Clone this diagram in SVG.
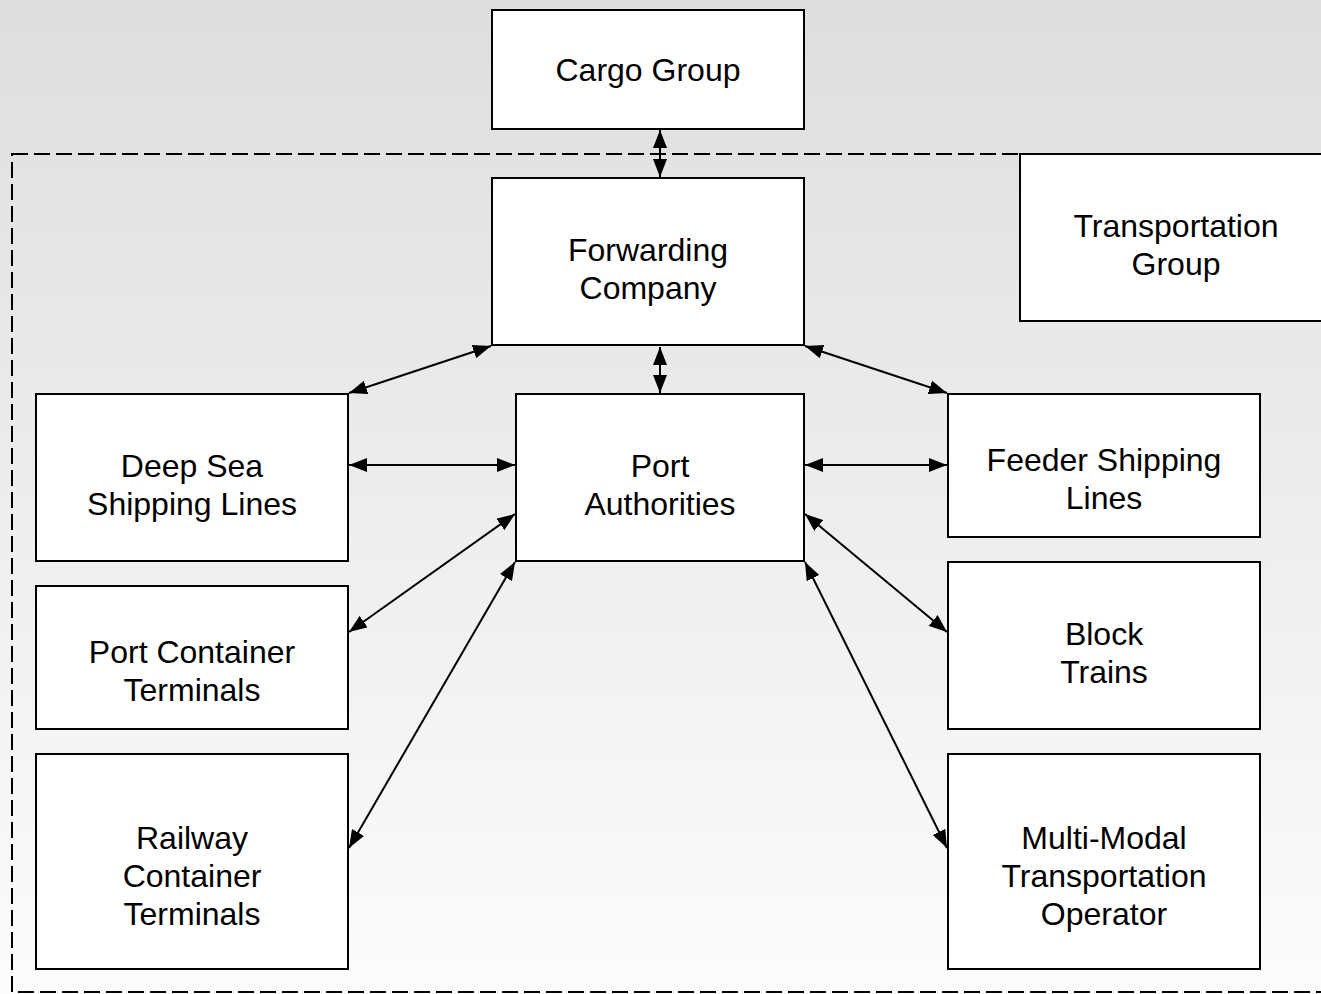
<svg xmlns="http://www.w3.org/2000/svg" width="1321" height="994" viewBox="0 0 1321 994">
<defs>
<linearGradient id="bg" x1="0" y1="0" x2="0" y2="1">
<stop offset="0" stop-color="#dedede"/>
<stop offset="1" stop-color="#fcfcfc"/>
</linearGradient>
<marker id="ah" viewBox="0 0 18 14" refX="18" refY="7" markerWidth="18" markerHeight="14" markerUnits="userSpaceOnUse" orient="auto-start-reverse">
<path d="M0,0 L18,7 L0,14 Z" fill="#000"/>
</marker>
</defs>
<style>
.box{fill:#fff;stroke:#000;stroke-width:2}
.t{font-family:"Liberation Sans",Arial,sans-serif;font-size:32px;fill:#000;text-anchor:middle}
.c{stroke:#000;stroke-width:2;fill:none;marker-start:url(#ah);marker-end:url(#ah)}
</style>
<rect x="0" y="0" width="1321" height="994" fill="url(#bg)"/>
<rect id="transportation-boundary" x="12" y="154" width="1330" height="838" fill="none" stroke="#000" stroke-width="2" stroke-dasharray="16 6"/>
<g id="connectors">
<line class="c" x1="660" y1="130" x2="660" y2="177"/>
<line class="c" x1="660" y1="347" x2="660" y2="393"/>
<line class="c" x1="491" y1="346" x2="349" y2="393"/>
<line class="c" x1="805" y1="346" x2="947" y2="393"/>
<line class="c" x1="349" y1="465" x2="515" y2="465"/>
<line class="c" x1="805" y1="465" x2="947" y2="465"/>
<line class="c" x1="515" y1="514" x2="349" y2="632"/>
<line class="c" x1="515" y1="562" x2="349" y2="848"/>
<line class="c" x1="805" y1="514" x2="947" y2="632"/>
<line class="c" x1="805" y1="562" x2="947" y2="848"/>
</g>
<g id="cargo-group"><rect class="box" x="492" y="10" width="312" height="119"/><text class="t" x="648" y="81">Cargo Group</text></g>
<g id="transportation-group"><rect class="box" x="1020" y="154" width="320" height="167"/><text class="t" x="1176" y="237">Transportation</text><text class="t" x="1176" y="275">Group</text></g>
<g id="forwarding-company"><rect class="box" x="492" y="178" width="312" height="167"/><text class="t" x="648" y="261">Forwarding</text><text class="t" x="648" y="299">Company</text></g>
<g id="port-authorities"><rect class="box" x="516" y="394" width="288" height="167"/><text class="t" x="660" y="477">Port</text><text class="t" x="660" y="515">Authorities</text></g>
<g id="deep-sea"><rect class="box" x="36" y="394" width="312" height="167"/><text class="t" x="192" y="477">Deep Sea</text><text class="t" x="192" y="515">Shipping Lines</text></g>
<g id="port-container"><rect class="box" x="36" y="586" width="312" height="143"/><text class="t" x="192" y="663">Port Container</text><text class="t" x="192" y="701">Terminals</text></g>
<g id="railway"><rect class="box" x="36" y="754" width="312" height="215"/><text class="t" x="192" y="849">Railway</text><text class="t" x="192" y="887">Container</text><text class="t" x="192" y="925">Terminals</text></g>
<g id="feeder"><rect class="box" x="948" y="394" width="312" height="143"/><text class="t" x="1104" y="471">Feeder Shipping</text><text class="t" x="1104" y="509">Lines</text></g>
<g id="block-trains"><rect class="box" x="948" y="562" width="312" height="167"/><text class="t" x="1104" y="645">Block</text><text class="t" x="1104" y="683">Trains</text></g>
<g id="multi-modal"><rect class="box" x="948" y="754" width="312" height="215"/><text class="t" x="1104" y="849">Multi-Modal</text><text class="t" x="1104" y="887">Transportation</text><text class="t" x="1104" y="925">Operator</text></g>
</svg>
